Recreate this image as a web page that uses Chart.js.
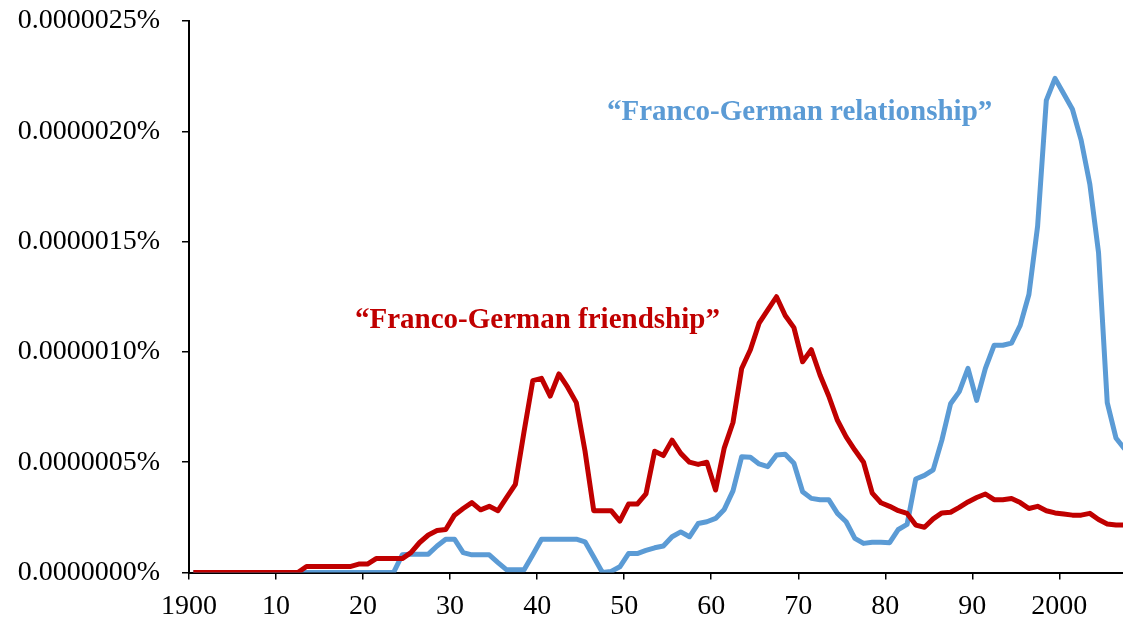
<!DOCTYPE html>
<html>
<head>
<meta charset="utf-8">
<script src="https://cdn.jsdelivr.net/npm/chart.js@4.4.1/dist/chart.umd.min.js"></script>
<style>
  html, body { margin: 0; padding: 0; background: #fff; overflow: hidden; }
  #wrap { width: 1130px; height: 620px; }
</style>
</head>
<body>
<div id="wrap"><canvas id="chart" width="1130" height="620"></canvas></div>
<script>
// one category per year, 1900-2007
const years = [];
for (let y = 1900; y <= 2007; y++) years.push(String(y));

const tickLabels = ["1900", "10", "20", "30", "40", "50", "60", "70", "80", "90", "2000"];

// values in units of 0.000001 %
const friendship = [
  0, 0, 0, 0, 0, 0, 0, 0, 0, 0,
  0, 0, 0, 0.027, 0.027, 0.027, 0.027, 0.027, 0.027, 0.038,
  0.038, 0.063, 0.063, 0.063, 0.063, 0.09, 0.136, 0.17, 0.19, 0.195,
  0.26, 0.29, 0.317, 0.284, 0.30, 0.28, 0.34, 0.40, 0.64, 0.87,
  0.88, 0.80, 0.90, 0.84, 0.77, 0.55, 0.28, 0.28, 0.28, 0.233,
  0.31, 0.31, 0.356, 0.55, 0.53, 0.60, 0.54, 0.50, 0.49, 0.50,
  0.374, 0.565, 0.68, 0.925, 1.01, 1.13, 1.19, 1.25, 1.165, 1.11,
  0.955, 1.01, 0.895, 0.80, 0.69, 0.615, 0.555, 0.50, 0.36, 0.316,
  0.30, 0.28, 0.268, 0.215, 0.205, 0.243, 0.27, 0.273, 0.295, 0.32,
  0.34, 0.356, 0.33, 0.33, 0.335, 0.317, 0.29, 0.30, 0.28, 0.27,
  0.265, 0.26, 0.26, 0.268, 0.24, 0.22, 0.215, 0.215
];

const relationship = [
  0, 0, 0, 0, 0, 0, 0, 0, 0, 0,
  0, 0, 0, 0, 0, 0, 0, 0, 0, 0,
  0, 0, 0, 0, 0.08, 0.083, 0.083, 0.083, 0.12, 0.151,
  0.151, 0.09, 0.08, 0.08, 0.08, 0.045, 0.012, 0.012, 0.012, 0.08,
  0.151, 0.151, 0.151, 0.151, 0.151, 0.139, 0.07, 0, 0.005, 0.026,
  0.086, 0.086, 0.10, 0.112, 0.12, 0.162, 0.184, 0.162, 0.222, 0.23,
  0.245, 0.286, 0.37, 0.525, 0.522, 0.492, 0.48, 0.533, 0.536, 0.495,
  0.366, 0.336, 0.33, 0.33, 0.268, 0.23, 0.155, 0.132, 0.137, 0.137,
  0.135, 0.195, 0.218, 0.424, 0.44, 0.465, 0.60, 0.765, 0.82, 0.925,
  0.78, 0.925, 1.03, 1.03, 1.04, 1.12, 1.26, 1.57, 2.14, 2.24,
  2.17, 2.10, 1.96, 1.76, 1.45, 0.77, 0.61, 0.56
];

const RED = "#C00000";
const BLUE = "#5B9BD5";
const serif = '"Liberation Serif", "Times New Roman", serif';

const notes = [
  { text: "\u201CFranco-German relationship\u201D", color: BLUE, x: 607, y: 120 },
  { text: "\u201CFranco-German friendship\u201D", color: RED, x: 355, y: 328 },
];

const notePlugin = {
  id: "notes",
  afterDatasetsDraw(chart) {
    const ctx = chart.ctx;
    ctx.save();
    ctx.font = "bold 29px " + serif;
    ctx.textAlign = "left";
    ctx.textBaseline = "alphabetic";
    notes.forEach((n) => {
      ctx.fillStyle = n.color;
      ctx.fillText(n.text, n.x, n.y);
    });
    ctx.restore();
  },
};

Chart.defaults.font.family = serif;
Chart.defaults.color = "#000";

new Chart(document.getElementById("chart"), {
  type: "line",
  data: {
    labels: years,
    datasets: [
      {
        label: "Franco-German friendship",
        data: friendship,
        borderColor: RED,
        borderWidth: 5,
        borderJoinStyle: "round",
        pointRadius: 0,
        tension: 0,
        order: 0,
      },
      {
        label: "Franco-German relationship",
        data: relationship,
        borderColor: BLUE,
        borderWidth: 5,
        borderJoinStyle: "round",
        pointRadius: 0,
        tension: 0,
        order: 1,
      },
    ],
  },
  options: {
    responsive: false,
    animation: false,
    layout: { padding: { top: 21, right: 1, left: 0, bottom: 0 } },
    plugins: {
      legend: { display: false },
      tooltip: { enabled: false },
    },
    scales: {
      x: {
        type: "category",
        offset: true,
        grid: {
          offset: true,
          drawOnChartArea: false,
          drawTicks: true,
          tickLength: 7,
          lineWidth: 1.5,
          color: (c) => (c.index % 10 === 0 ? "#000" : "rgba(0,0,0,0)"),
        },
        border: { color: "#000", width: 2 },
        ticks: {
          autoSkip: false,
          maxRotation: 0,
          minRotation: 0,
          labelOffset: -4.35,
          padding: 10,
          color: "#000",
          font: { size: 28 },
          callback: (v, i) => (i % 10 === 0 ? tickLabels[i / 10] : ""),
        },
        afterFit: (s) => {
          s.height = 47.5;
          s.paddingLeft = 0;
          s.paddingRight = 0;
        },
      },
      y: {
        min: 0,
        max: 2.5,
        grid: {
          drawOnChartArea: false,
          drawTicks: true,
          tickLength: 7,
          lineWidth: 1.5,
          color: "#000",
        },
        border: { color: "#000", width: 2 },
        ticks: {
          stepSize: 0.5,
          padding: 22,
          color: "#000",
          font: { size: 28 },
          callback: (v) => (v / 1e6).toFixed(7) + "%",
        },
        afterFit: (s) => {
          s.width = 189;
          s.paddingTop = 0;
          s.paddingBottom = 0;
        },
      },
    },
  },
  plugins: [notePlugin],
});
</script>
</body>
</html>
